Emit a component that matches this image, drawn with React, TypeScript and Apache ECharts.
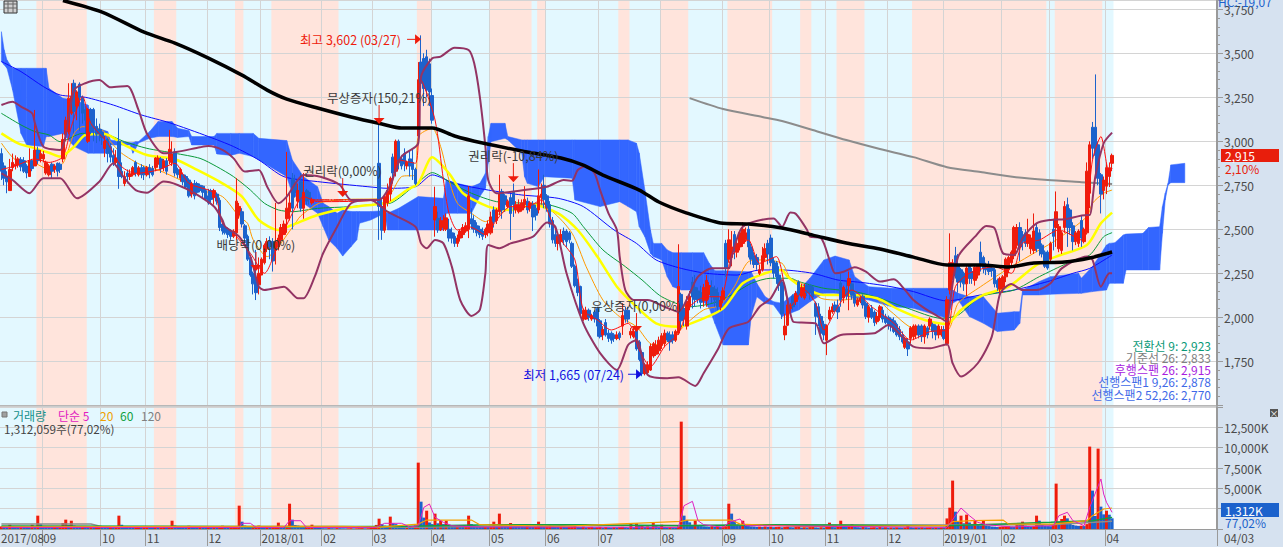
import React, { useEffect, useRef } from "react";
import * as echarts from "echarts";

const FONT = '"Noto Sans CJK KR"';
const DAY_COUNT = 435;
const TRADED_DAYS = 398;

const firstMonthLabel = "2017/08";
const monthStarts = [15, 36, 52, 74, 93, 115, 133, 154, 175, 195, 214, 236, 258, 275, 295, 317, 337, 358, 375, 395];
const monthLabels = ["09", "10", "11", "12", "2018/01", "02", "03", "04", "05", "06", "07", "08", "09", "10", "11", "12", "2019/01", "02", "03", "04"];

const redBands = [[13, 31], [55, 63], [84, 87], [97, 121], [149, 154], [175, 190], [192, 195], [221, 225], [236, 246], [260, 276], [286, 290], [299, 309], [326, 374], [377, 394]];

const HALT = [2667, 2667, 2667, 2667];
// [open, close, low, high]
const candlesA = [
[2930,2830,2780,2960],[2860,2790,2750,2880],[2800,2770,2705,2830],[2720,2840,2720,2900],[2850,2880,2830,2930],[2860,2870,2840,2920],[2865,2900,2850,2910],[2895,2855,2830,2910],[2890,2830,2820,2910],[2860,2820,2790,2870],
[2800,2890,2800,2960],[2890,2845,2830,2900],[2860,2950,2860,3178],[2950,2890,2870,2970],[2900,2930,2880,2950],[2900,2925,2880,2945],[2820,2880,2810,2890],[2810,2860,2800,2870],[2870,2830,2790,2880],[2840,2860,2820,2870],
[2875,2830,2800,2880],[2870,2840,2820,2880],[2900,3010,2880,3045],[3040,3120,3000,3140],[3055,3245,3040,3330],[3160,3255,3150,3330],[3330,3170,3045,3350],[3200,3280,3120,3290],[3325,3250,3060,3335],[3250,3160,3100,3260],
[3180,3120,3040,3200],[3000,3180,2990,3190],[3180,3055,3040,3190],[3180,3070,3000,3190],[3085,3040,2990,3130],[3070,3040,3000,3100],[3050,3020,2980,3070],[2960,3000,2910,3030],[3010,2930,2880,3020],[2970,2910,2880,2990],
[2920,2880,2860,2960],[2880,2905,2860,2950],[3000,2800,2730,3130],[2830,2800,2790,2880],[2760,2800,2745,2830],[2820,2800,2760,2840],[2800,2815,2780,2840],[2810,2850,2800,2860],[2880,2820,2800,2890],[2810,2850,2800,2860],
[2850,2810,2790,2870],[2850,2810,2780,2860],[2810,2850,2800,2860],[2850,2820,2790,2870],[2845,2810,2800,2860],[2850,2905,2830,2910],[2870,2905,2850,2920],[2900,2845,2820,2910],[2850,2890,2830,2900],[2890,2830,2810,2905],
[2890,2955,2870,3065],[2880,2925,2860,3000],[2940,2820,2800,2960],[2840,2810,2790,2850],[2790,2840,2770,2850],[2810,2770,2750,2820],[2800,2740,2730,2810],[2780,2690,2680,2790],[2700,2760,2680,2770],[2760,2690,2670,2780],
[2760,2710,2700,2770],[2750,2720,2710,2760],[2745,2710,2680,2750],[2720,2670,2660,2730],[2690,2650,2640,2730],[2720,2670,2650,2730],[2680,2720,2640,2730],[2700,2660,2640,2710],[2665,2510,2490,2680],[2530,2490,2470,2540],
[2510,2480,2470,2530],[2500,2470,2450,2510],[2490,2460,2440,2500],[2460,2490,2450,2500],[2480,2660,2440,2790],[2580,2630,2560,2650],[2600,2530,2510,2620],[2520,2450,2420,2530],[2460,2330,2320,2470],[2340,2240,2230,2350],
[2250,2190,2130,2260],[2200,2140,2098,2383],[2185,2250,2130,2340],[2240,2330,2240,2340],[2310,2410,2300,2420],[2390,2430,2370,2450],[2430,2400,2330,2460],[2430,2320,2260,2450],[2380,2430,2300,2650],[2400,2450,2380,2470],
[2440,2510,2420,2530],[2470,2530,2470,2550],[2560,2620,2480,2940],[2600,2650,2550,2700],[2790,2620,2500,2820],[2760,2710,2680,2810],[2660,2720,2620,2760],[2770,2620,2600,2820],[2620,2710,2560,2820],[2720,2660,2640,2730],
[2710,2670,2640,2720],[2650,2670,2640,2680],
HALT,HALT,HALT,HALT,HALT,HALT,HALT,HALT,HALT,HALT,HALT,HALT,HALT,HALT,HALT,HALT,HALT,HALT,HALT,HALT,HALT,HALT,HALT,
[2875,2630,2440,3120],[2630,2495,2440,2670],[2495,2685,2480,2700],[2650,2720,2630,2760],[2700,2790,2660,2800],[2910,2820,2760,2930],[2830,3000,2800,3010],[3000,2880,2840,3010],[2900,2860,2840,2920],[2930,2870,2830,2960],
[2860,2880,2840,2890],[2900,2860,2800,2950],[2880,2840,2780,2960],[2840,2760,2750,2850],[3030,3350,3000,3450],[3450,3330,3280,3602],[3470,3300,3200,3500],[3480,3290,3250,3520],[3440,3280,3200,3470],[3260,3120,3100,3300],
];
const candlesB = [
[2553,2629,2458,2742],[2562,2496,2480,2600],[2496,2550,2490,2570],[2510,2550,2490,2580],[2500,2565,2490,2590],[2500,2450,2430,2560],[2480,2450,2420,2510],[2460,2420,2400,2480],[2420,2450,2400,2470],[2450,2490,2430,2500],
[2470,2510,2450,2530],[2490,2520,2480,2540],[2500,2690,2450,2745],[2560,2530,2500,2620],[2550,2500,2480,2580],[2520,2480,2460,2540],[2500,2470,2450,2520],[2490,2460,2440,2510],[2470,2500,2450,2510],[2480,2530,2460,2550],
[2480,2570,2470,2600],[2610,2545,2510,2630],[2550,2610,2530,2620],[2600,2700,2580,2810],[2715,2610,2560,2730],[2690,2640,2600,2700],[2630,2660,2620,2670],[2680,2590,2440,2700],[2710,2640,2570,2760],[2610,2640,2590,2660],
[2600,2640,2590,2670],[2610,2650,2600,2670],[2640,2670,2620,2745],[2660,2610,2590,2680],[2620,2650,2600,2660],[2640,2570,2490,2660],[2620,2580,2550,2640],[2610,2690,2590,2840],[2680,2700,2640,2760],[2750,2670,2620,2810],
[2690,2620,2600,2700],[2640,2530,2510,2660],[2550,2440,2420,2570],[2470,2420,2400,2500],[2420,2460,2380,2480],[2430,2470,2410,2500],[2490,2440,2410,2510],[2490,2430,2400,2500],[2480,2440,2420,2490],[2420,2290,2280,2430],
[2290,2180,2170,2300],[2200,2140,2120,2220],[2175,2020,2000,2180],[1990,2040,1980,2050],[1990,2040,1985,2060],[2040,2000,1980,2050],[1990,2010,1980,2020],[2030,1990,1970,2040],[2050,1950,1890,2060],[1980,1890,1880,1990],
[1900,1930,1870,1950],[1970,1900,1890,1990],[1910,1880,1860,1930],[1910,1870,1850,1920],[1900,1880,1860,1910],[1880,1900,1870,1920],[1910,1885,1870,1920],[1950,2010,1900,2080],[2040,1990,1970,2060],[2040,1990,1970,2060],
[1900,1920,1880,1940],[1890,1920,1880,1940],[1925,1820,1810,1940],[1860,1760,1750,1870],[1800,1680,1665,1810],[1680,1730,1670,1740],[1685,1730,1680,1750],[1700,1835,1695,1850],[1780,1850,1770,1860],[1790,1840,1780,1870],
[1810,1870,1790,1890],[1840,1895,1820,1910],[1850,1910,1830,1930],[1910,1870,1860,1920],[1900,1860,1810,1920],[1900,1870,1850,1920],[1870,1920,1860,1930],[1910,2175,1900,2415],[2130,1980,1930,2140],[2050,1990,1950,2060],
[1950,2090,1930,2120],[2060,2120,2040,2150],[2200,2115,2050,2230],[2170,2100,2060,2240],[2150,2100,2080,2170],[2140,2085,2050,2180],[2095,2170,2060,2190],[2095,2210,2060,2240],[2130,2180,2100,2200],[2170,2115,2080,2210],
[2160,2100,2060,2180],[2140,2060,2040,2170],[2060,2095,2040,2120],[2100,2150,2080,2170],[2420,2280,2230,2440],[2330,2440,2310,2500],[2340,2400,2290,2490],[2470,2380,2330,2490],[2370,2420,2340,2430],[2400,2480,2380,2490],
[2420,2500,2400,2540],[2440,2480,2430,2510],[2500,2400,2340,2520],[2400,2330,2300,2420],[2350,2300,2280,2370],[2340,2300,2270,2360],[2250,2270,2240,2300],[2270,2350,2260,2400],[2340,2390,2320,2420],[2420,2360,2300,2440],
[2450,2310,2290,2470],[2320,2250,2220,2340],[2310,2230,2190,2320],[2240,2180,2150,2290],[2200,2020,1990,2210],[1900,1950,1870,2020],[1955,2070,1950,2080],[2050,2070,2030,2080],[2120,2060,2040,2130],[2090,2135,2070,2150],
];
const candlesC = [
[2200,2127,2100,2210],[2120,2170,2110,2190],[2110,2170,2100,2190],[2180,2140,2120,2190],[2180,2140,2100,2190],[2170,2115,2100,2180],[2080,2005,1900,2090],[2060,2000,1950,2080],[2005,1910,1890,2020],[1960,1900,1870,1980],
[1870,1950,1785,1960],[1990,2040,1980,2060],[2030,2060,2020,2080],[2070,2040,2030,2090],[2060,2030,1990,2100],[2195,2100,2060,2250],[2110,2170,2080,2180],[2160,2120,2100,2200],[2180,2220,2040,2260],[2190,2125,2100,2200],
[2130,2080,2060,2140],[2070,2100,2060,2110],[2090,2110,2080,2120],[2120,2070,2050,2130],[2080,2005,1990,2090],[2000,2060,1970,2070],[2050,2000,1990,2070],[2030,1970,1950,2040],[1975,2005,1960,2030],[2000,2060,1980,2070],
[2040,1990,1970,2060],[2005,1970,1960,2020],[2000,1960,1930,2010],[1990,1950,1920,2000],[1980,1920,1910,2000],[1960,1900,1890,1970],[1930,1890,1870,1950],[1900,1860,1850,1920],[1830,1880,1820,1890],[1860,1820,1780,1880],
[1880,1940,1850,1950],[1890,1950,1870,1960],[1900,1950,1880,1960],[1950,1900,1880,1960],[1950,1890,1860,1960],[1890,1950,1850,1960],[1940,1900,1880,1950],[1950,1990,1930,2000],[1960,1920,1880,1970],[1950,1900,1870,1960],
[1900,1950,1880,1960],[1900,1930,1890,1950],[1930,1880,1870,1950],[1850,2100,1840,2120],[2155,2310,2130,2477],[2240,2310,2210,2330],[2350,2240,2220,2400],[2300,2200,2140,2360],[2270,2200,2170,2280],[2250,2190,2150,2260],
[2190,2280,2120,2290],[2290,2220,2190,2300],[2260,2220,2190,2280],[2210,2285,2180,2290],[2240,2290,2220,2300],[2370,2305,2260,2430],[2340,2280,2250,2350],[2280,2270,2240,2310],[2290,2260,2240,2320],[2280,2265,2230,2290],
[2270,2190,2170,2280],[2210,2170,2150,2220],[2160,2220,2130,2230],[2170,2230,2140,2240],[2230,2330,2200,2340],[2270,2340,2250,2350],[2310,2370,2290,2380],[2350,2510,2330,2520],[2410,2510,2390,2530],[2510,2400,2320,2540],
[2470,2430,2380,2490],[2480,2420,2400,2500],[2420,2470,2400,2560],[2390,2450,2360,2470],[2380,2490,2360,2590],[2510,2390,2370,2530],[2480,2390,2350,2500],[2410,2360,2340,2420],[2370,2290,2280,2380],[2370,2280,2270,2380],
[2330,2420,2320,2430],[2500,2460,2380,2560],[2510,2600,2400,2715],[2390,2515,2370,2530],[2380,2480,2360,2490],[2510,2630,2480,2660],[2640,2510,2400,2680],[2610,2510,2470,2620],[2520,2430,2380,2540],[2430,2480,2410,2490],
[2420,2490,2400,2500],[2550,2450,2400,2580],[2430,2500,2420,2510],[2480,2830,2470,2880],[2705,2980,2620,3000],[3080,2960,2900,3110],[3080,2920,2800,3380],[2980,2790,2750,3000],[2810,2700,2590,2820],[2720,2780,2670,2800],
[2745,2850,2700,2870],[2800,2850,2740,2880],[2875,2920,2830,2930],
];
const candles = [...candlesA, ...candlesB, ...candlesC];

const bbUpper = [[0,3206],[4,3225],[7,3197],[11,3159],[12,3102],[15,2970],[21,2951],[26,3292],[30,3330],[35,3348],[39,3307],[45,3314],[49,3178],[52,3045],[58,2932],[63,2941],[71,2966],[74,2973],[79,2951],[83,2903],[87,2828],[92,2837],[95,2742],[99,2648],[102,2686],[108,2809],[114,2799],[121,2752],[125,2667],[135,2667],[139,2752],[143,2913],[149,2989],[150,3367],[154,3472],[157,3481],[162,3532],[167,3519],[169,3443],[171,3254],[173,2970],[174,2780],[177,2705],[187,2723],[195,2742],[201,2780],[204,2776],[206,2837],[209,2860],[212,2818],[214,2723],[217,2591],[220,2496],[221,2345],[223,2155],[226,2098],[231,2098],[237,2060],[242,2032],[246,2136],[249,2231],[254,2278],[260,2278],[261,2345],[265,2515],[276,2562],[279,2515],[282,2595],[284,2587],[288,2496],[289,2458],[293,2449],[296,2326],[298,2250],[301,2259],[305,2284],[309,2259],[314,2203],[319,2216],[323,2155],[326,2098],[330,2051],[335,2003],[338,1975],[339,2080],[342,2345],[348,2458],[352,2519],[355,2506],[358,2364],[362,2354],[365,2449],[370,2534],[375,2553],[380,2557],[388,2581],[389,2581],[391,2799],[394,2989],[397,3049]];
const bbLower = [[0,2818],[4,2780],[10,2705],[15,2790],[21,2790],[27,2676],[35,2771],[40,2875],[44,2790],[48,2723],[52,2708],[58,2771],[63,2752],[69,2705],[76,2629],[79,2553],[80,2515],[85,2458],[89,2345],[92,2174],[94,2155],[101,2174],[106,2108],[108,2108],[112,2231],[115,2364],[120,2515],[125,2648],[132,2667],[138,2600],[148,2515],[150,2420],[152,2392],[155,2439],[158,2420],[161,2288],[164,2098],[168,2008],[171,2042],[173,2250],[174,2411],[178,2392],[182,2420],[190,2458],[195,2538],[198,2515],[202,2250],[208,1966],[214,1796],[220,1701],[224,1843],[227,1871],[231,1673],[238,1654],[242,1659],[248,1610],[251,1682],[256,1815],[260,1937],[267,1975],[271,2060],[275,2108],[279,2212],[283,1975],[286,1970],[291,1966],[294,1852],[300,1900],[312,1909],[317,1956],[322,1890],[326,1833],[332,1824],[338,1847],[340,1739],[343,1663],[349,1739],[354,1890],[357,2136],[361,2189],[365,2155],[370,2155],[375,2193],[379,2278],[388,2345],[390,2326],[393,2174],[396,2250],[397,2250]];
const ma240 = [[246,3245],[258,3183],[272,3138],[279,3115],[290,3064],[302,3007],[314,2956],[326,2910],[338,2853],[350,2825],[362,2797],[374,2780],[386,2768],[397,2757]];
const ma120 = [[22,3800],[36,3734],[51,3620],[62,3558],[74,3473],[86,3376],[95,3291],[102,3240],[113,3189],[125,3138],[136,3098],[143,3075],[154,3075],[162,3030],[172,2990],[186,2945],[200,2905],[208,2865],[215,2808],[228,2723],[235,2655],[245,2592],[257,2536],[267,2530],[279,2507],[290,2467],[302,2422],[314,2388],[326,2342],[338,2297],[350,2297],[360,2286],[369,2308],[380,2314],[389,2337],[397,2371]];
const baseline = [[0,3453],[7,3396],[15,3311],[21,3263],[30,3250],[40,3206],[50,3150],[60,3106],[74,3027],[83,2970],[92,2894],[101,2799],[113,2771],[131,2742],[138,2733],[148,2742],[154,2809],[162,2761],[174,2723],[186,2695],[199,2676],[208,2629],[219,2496],[227,2420],[234,2326],[243,2278],[252,2250],[263,2240],[271,2269],[279,2269],[290,2250],[299,2212],[308,2197],[318,2174],[326,2146],[338,2093],[350,2127],[362,2155],[374,2203],[383,2250],[389,2278],[397,2354]];
const ma60 = [[0,3159],[7,3093],[12,3055],[17,3036],[21,2998],[29,3045],[36,3045],[44,2998],[52,2960],[62,2932],[71,2903],[77,2856],[83,2799],[89,2723],[94,2648],[99,2610],[104,2600],[113,2619],[125,2629],[135,2644],[139,2648],[148,2752],[154,2822],[161,2761],[168,2705],[177,2657],[188,2648],[196,2638],[204,2591],[208,2515],[215,2383],[223,2288],[229,2212],[236,2117],[246,2060],[254,2079],[261,2127],[268,2193],[275,2222],[282,2222],[285,2203],[294,2165],[305,2146],[314,2108],[324,2051],[336,1994],[342,2013],[350,2117],[362,2155],[371,2231],[381,2307],[389,2354],[394,2458],[397,2481]];
const ma40 = [[0,3045],[6,2988],[12,2960],[17,2935],[21,2913],[26,2970],[30,3036],[37,3042],[44,2979],[52,2922],[62,2898],[70,2837],[79,2761],[86,2686],[92,2553],[99,2496],[104,2525],[113,2581],[125,2625],[135,2644],[139,2657],[145,2723],[149,2761],[154,2909],[160,2818],[165,2705],[174,2629],[182,2610],[190,2638],[199,2591],[206,2496],[213,2345],[220,2174],[227,2060],[234,1966],[242,1947],[251,1994],[258,2051],[265,2193],[273,2250],[279,2269],[281,2231],[286,2174],[294,2127],[304,2127],[313,2108],[321,2042],[330,1985],[338,1962],[343,2042],[351,2127],[360,2174],[370,2297],[377,2345],[388,2411],[393,2534],[397,2595]];
const ma20 = [[0,2990],[5,2895],[12,2875],[17,2840],[22,2875],[26,3045],[29,3083],[36,3064],[39,2998],[43,2932],[50,2865],[56,2837],[64,2780],[71,2723],[79,2686],[85,2572],[88,2534],[90,2440],[95,2345],[104,2510],[107,2576],[114,2651],[124,2670],[135,2674],[139,2700],[143,2799],[148,2809],[149,3027],[154,3074],[157,2970],[160,2780],[163,2648],[168,2591],[173,2544],[177,2581],[184,2629],[190,2648],[197,2600],[204,2477],[209,2288],[215,2098],[221,2003],[227,1947],[233,1843],[239,1871],[245,1966],[251,2042],[257,2070],[262,2174],[267,2316],[272,2326],[279,2307],[282,2222],[286,2193],[293,2108],[300,2098],[311,2117],[318,2032],[326,1937],[338,1928],[342,2080],[350,2174],[360,2278],[369,2364],[377,2439],[388,2572],[390,2648],[394,2705],[397,2723]];
const ma5 = [[0,2840],[5,2860],[12,2900],[17,2880],[22,2913],[25,3083],[29,3254],[32,3102],[38,2989],[43,2856],[48,2818],[56,2837],[62,2875],[67,2761],[76,2705],[79,2534],[83,2477],[89,2364],[94,2250],[99,2420],[104,2591],[108,2686],[113,2657],[135,2667],[139,2723],[142,2894],[148,2875],[150,3348],[155,3121],[158,2780],[160,2591],[163,2496],[167,2515],[170,2496],[173,2468],[177,2553],[182,2629],[188,2629],[193,2667],[196,2572],[200,2439],[205,2326],[208,2042],[213,1985],[218,1928],[224,1966],[228,1814],[232,1720],[237,1833],[242,1909],[246,2060],[252,2117],[257,2117],[261,2345],[267,2439],[271,2307],[277,2345],[282,2060],[287,2155],[291,2080],[294,1928],[299,2061],[304,2155],[311,2061],[319,1966],[325,1871],[332,1919],[338,1928],[341,2174],[346,2250],[355,2288],[361,2250],[365,2420],[371,2439],[378,2496],[386,2439],[390,2894],[393,3027],[396,2818],[397,2847]];

// [day, upper, lower]
const cloud = [[0,3623,3453],[1,3519,3434],[2,3462,3415],[4,3415,3292],[7,3415,3045],[9,3415,2979],[15,3415,2970],[16,3415,3027],[17,3301,3027],[22,3244,3045],[26,3235,2970],[31,3206,2932],[33,3083,2932],[38,3055,2932],[39,3008,2979],[46,2992,2979],[47,2992,2932],[48,2998,2960],[49,2998,2990],[53,3055,3017],[56,3112,3027],[61,3112,3027],[63,3074,3022],[67,3061,3027],[68,3027,2979],[76,3027,2979],[77,3045,2928],[82,3045,2920],[85,3045,2932],[90,3045,2913],[92,3017,2894],[102,3004,2799],[104,2894,2700],[108,2799,2648],[113,2742,2591],[115,2648,2515],[117,2629,2439],[120,2591,2392],[122,2610,2348],[125,2601,2402],[127,2601,2439],[128,2601,2534],[132,2601,2553],[137,2606,2591],[138,2591,2496],[142,2619,2496],[149,2686,2496],[158,2676,2496],[159,2780,2591],[163,2761,2591],[168,2742,2591],[171,2761,2686],[173,2818,2733],[174,3027,2875],[175,3102,2998],[180,3102,3017],[181,3027,3008],[186,3008,2932],[187,3008,2799],[188,3008,2761],[192,3008,2742],[194,3008,2799],[204,3008,2790],[205,3008,2667],[214,3008,2629],[221,3008,2657],[224,3008,2629],[227,2989,2600],[228,2932,2515],[230,2723,2458],[232,2496,2364],[233,2420,2345],[236,2420,2326],[238,2383,2231],[240,2367,2174],[243,2367,2155],[247,2367,2155],[251,2367,2089],[253,2307,2051],[255,2265,1966],[258,2265,1843],[267,2259,1843],[268,2259,2004],[270,2193,2117],[273,2117,2080],[276,2089,2070],[279,2080,2004],[285,2155,2042],[289,2222,2089],[294,2326,2136],[298,2348,2136],[303,2326,2117],[305,2231,2108],[310,2174,2098],[318,2165,2061],[326,2165,2051],[338,2165,1994],[340,2155,2080],[342,2136,2098],[346,2117,2004],[351,2117,1966],[356,2023,1919],[362,2032,1928],[364,2032,1966],[365,2155,2127],[371,2203,2127],[375,2231,2131],[385,2250,2136],[386,2222,2136],[390,2288,2146],[395,2411,2155],[396,2420,2193],[398,2424,2193],[401,2468,2193],[402,2473,2269],[408,2477,2269],[410,2510,2269],[414,2515,2269],[415,2629,2477],[416,2705,2667],[417,2761,2751],[418,2866,2765],[423,2875,2765]];

// thousands of shares
const volumes = [
320,280,260,530,300,250,230,280,260,240,220,530,300,1640,600,350,300,280,260,300,
280,320,740,1150,500,1020,420,320,280,300,260,240,280,220,260,300,280,250,240,260,
220,280,1640,520,300,260,240,200,220,260,180,200,230,210,190,240,200,220,260,210,
230,1020,420,280,240,220,200,400,260,220,200,240,210,190,230,200,220,180,210,400,
240,220,260,300,340,2870,900,420,320,280,300,340,420,300,260,280,240,300,350,780,
380,320,400,3110,1150,480,420,300,260,280,300,530,260,150,120,100,90,110,100,90,
110,100,90,80,90,100,80,90,100,110,90,100,120,300,500,1270,620,420,380,1520,
700,600,340,300,280,320,260,240,420,8160,3360,1400,2250,800,600,1890,700,1020,600,1020,
520,400,380,420,340,300,320,1640,600,480,420,380,340,360,320,420,900,460,1890,620,
500,440,740,420,380,340,320,300,360,280,260,300,900,480,360,420,500,380,320,280,
300,260,240,280,300,340,260,240,280,220,240,260,200,220,260,180,240,200,180,220,
200,240,260,220,180,700,220,700,380,420,300,340,280,780,360,300,530,260,220,240,
200,180,300,13200,1640,1100,820,480,1020,420,360,320,300,280,340,260,300,280,320,340,
3110,1890,1020,480,380,1020,420,360,320,300,260,280,240,300,260,280,220,240,260,200,
240,280,220,200,240,260,180,220,200,240,260,200,180,220,190,260,780,240,220,300,
1020,280,240,260,600,240,220,200,240,220,180,200,220,190,240,200,220,180,200,190,
210,190,180,200,400,220,180,200,190,210,170,190,200,180,190,170,200,180,1300,2620,
5950,2130,900,1640,700,1760,800,620,1020,500,440,1020,420,360,300,280,240,260,300,320,
340,300,280,600,500,900,420,380,300,340,1640,1020,520,400,360,340,600,5580,900,1230,
1640,1310,700,500,420,380,400,360,600,10130,4720,1600,9880,2750,1800,2250,1760,1312,
];
const volMa5 = [[0,200],[85,200],[86,700],[89,700],[91,200],[101,200],[103,1020],[107,1020],[109,200],[134,200],[137,700],[143,700],[146,250],[149,400],[151,2660],[153,3070],[155,1430],[158,820],[161,400],[170,250],[242,200],[244,2870],[247,3400],[249,1020],[251,530],[258,200],[260,820],[264,1230],[266,410],[338,200],[341,1640],[343,2580],[346,1640],[349,820],[352,530],[361,250],[376,410],[378,1640],[381,2050],[383,1020],[387,410],[389,2660],[393,6150],[394,4300],[395,3280],[397,2050]];
const volMa20 = [[0,260],[91,330],[122,330],[135,240],[149,600],[152,1100],[168,1100],[171,530],[200,330],[243,940],[245,1100],[261,1100],[264,600],[287,290],[338,410],[340,900],[347,1020],[358,1100],[360,600],[376,600],[388,1020],[390,1640],[394,2460],[397,2580]];
const volMa60 = [[0,380],[60,330],[140,300],[175,530],[208,530],[243,410],[272,530],[300,500],[338,410],[375,820],[390,1020],[397,1430]];
const volMa120 = [[0,620],[32,620],[36,290],[146,200],[204,410],[338,490],[375,530],[397,940]];

const eventDays = [91, 122, 135, 183, 227];
const eventPrices = [2263, 2683, 3098, 2768, 1916];
const eventTexts = ["배당락(0,00%)", "권리락(0,00%)", "무상증자(150,21%)", "권리락(-10,84%)", "유상증자(0,00%)"];

const extremeDays = [150, 229];
const extremePrices = [3602, 1665];
const extremeTexts = ["최고 3,602 (03/27)", "최저 1,665 (07/24)"];

const ichimokuLegend = [
  ["전환선 9: 2,923", "#0a9a78"],
  ["기준선 26: 2,833", "#808080"],
  ["후행스팬 26: 2,915", "#a81ee0"],
  ["선행스팬1 9,26: 2,878", "#3f6ae8"],
  ["선행스팬2 52,26: 2,770", "#3f6ae8"],
];
const volumeLegend = [
  ["거래량", "#16908a", 13],
  ["단순 5", "#e020c0", 58],
  ["20", "#f0a000", 100],
  ["60", "#10a040", 120],
  ["120", "#808080", 141],
];

const RED = "#ee1c0c";
const BLUE = "#1c62cc";
const GRID_LINE = "#d4d4d4";
const AXIS_LINE = "#9a9a9a";
const PANEL = "#d6e2f0";
const TEXT = "#4a4a4a";

const isMonth = (i: number) => monthStarts.includes(i);
const fmt = (v: number) => v.toLocaleString("en-US");

const bandSeries = (grid: number) => ({
  type: "custom",
  xAxisIndex: grid,
  yAxisIndex: grid,
  z: -1,
  silent: true,
  clip: true,
  encode: { x: [0, 1] },
  data: [[0, TRADED_DAYS, 0], ...redBands.map((b) => [b[0], b[1], 1])],
  renderItem: (params: any, api: any) => {
    const w = api.size([1, 0])[0];
    const a = api.coord([api.value(0), 2000])[0] - w / 2;
    const b = api.coord([api.value(1), 2000])[0] - w / 2;
    const cs = params.coordSys;
    return {
      type: "rect",
      shape: { x: a, y: cs.y, width: b - a, height: cs.height },
      style: { fill: api.value(2) === 1 ? "#ffe4dc" : "#e3f8ff" },
    };
  },
});

const lineSeries = (data: number[][], color: string, width: number, grid = 0, z = 5, smooth: number | boolean = 0.25) => ({
  type: "line",
  data,
  xAxisIndex: grid,
  yAxisIndex: grid,
  symbol: "none",
  smooth,
  z,
  silent: true,
  lineStyle: { color, width },
});

const categories = Array.from({ length: DAY_COUNT }, (_, i) => String(i));

const xAxisBase = (grid: number) => ({
  type: "category",
  gridIndex: grid,
  data: categories,
  boundaryGap: true,
  silent: true,
  splitLine: { show: true, interval: (i: number) => isMonth(i), lineStyle: { color: GRID_LINE, width: 1 } },
});

export default function App() {
  const ref = useRef<HTMLDivElement>(null);
  useEffect(() => {
    document.body.style.margin = "0";
    const chart = echarts.init(ref.current!, undefined, { renderer: "svg" });
    const T = (x: number, y: number, text: string, fill: string, align = "left", size = 12, z = 30) => ({
      type: "text",
      z,
      silent: true,
      style: { x, y, text, fill, align, verticalAlign: "middle", font: `${size}px ${FONT}` },
    });
    const option: any = {
      animation: false,
      backgroundColor: "#ffffff",
      textStyle: { fontFamily: FONT },
      grid: [
        { left: 0, top: 0.5, width: 1217, height: 404.8 },
        { left: 0, top: 407, width: 1217, height: 122 },
      ],
      xAxis: [
        { ...xAxisBase(0), axisLine: { show: false }, axisTick: { show: false }, axisLabel: { show: false } },
        {
          ...xAxisBase(1),
          axisLine: { lineStyle: { color: AXIS_LINE, width: 1 } },
          axisTick: { show: true, length: 17, interval: (i: number) => isMonth(i), lineStyle: { color: AXIS_LINE } },
          axisLabel: {
            show: true,
            interval: (i: number) => isMonth(i),
            formatter: (_: string, i: number) => monthLabels[monthStarts.indexOf(i)] ?? "",
            align: "left",
            margin: 3,
            color: TEXT,
            fontSize: 11.5,
            fontFamily: FONT,
            hideOverlap: false,
          },
        },
      ],
      yAxis: [
        {
          type: "value",
          gridIndex: 0,
          position: "right",
          min: 1500,
          max: 3800,
          interval: 250,
          silent: true,
          axisLine: { show: true, lineStyle: { color: AXIS_LINE, width: 2 } },
          axisTick: { show: true, length: 6, lineStyle: { color: AXIS_LINE } },
          minorTick: { show: true, splitNumber: 5, length: 3, lineStyle: { color: AXIS_LINE } },
          splitLine: { show: true, lineStyle: { color: GRID_LINE, width: 1 } },
          axisLabel: {
            show: true,
            margin: 7,
            color: TEXT,
            fontSize: 12,
            fontFamily: FONT,
            padding: [0, 0, 3, 0],
            formatter: (v: number) => (v === 3800 || v === 1500 ? "" : fmt(v)),
          },
        },
        {
          type: "value",
          gridIndex: 1,
          position: "right",
          min: 0,
          max: 15000,
          interval: 2500,
          silent: true,
          axisLine: { show: true, lineStyle: { color: AXIS_LINE, width: 2 } },
          axisTick: { show: true, length: 6, lineStyle: { color: AXIS_LINE } },
          splitLine: { show: true, lineStyle: { color: GRID_LINE, width: 1 } },
          axisLabel: {
            show: true,
            margin: 7,
            color: TEXT,
            fontSize: 12,
            fontFamily: FONT,
            padding: [0, 0, 3, 0],
            formatter: (v: number) => (v === 0 || v === 15000 ? "" : `${fmt(v)}K`),
          },
        },
      ],
      graphic: {
        elements: [
          { type: "rect", z: -5, silent: true, shape: { x: 0, y: 530, width: 1283, height: 17 }, style: { fill: PANEL } },
          { type: "rect", z: -5, silent: true, shape: { x: 1217, y: 0, width: 66, height: 547 }, style: { fill: PANEL } },
          { type: "line", z: 20, silent: true, shape: { x1: 0, y1: 406, x2: 1217, y2: 406 }, style: { stroke: AXIS_LINE, lineWidth: 1 } },
          { type: "rect", z: 30, silent: true, shape: { x: 4, y: 1, width: 13, height: 12 }, style: { fill: "#cfcfcf", stroke: "#333333", lineWidth: 1 } },
          { type: "line", z: 31, silent: true, shape: { x1: 4, y1: 4, x2: 17, y2: 4 }, style: { stroke: "#666666", lineWidth: 1 } },
          { type: "line", z: 31, silent: true, shape: { x1: 4, y1: 8, x2: 17, y2: 8 }, style: { stroke: "#666666", lineWidth: 1 } },
          { type: "line", z: 31, silent: true, shape: { x1: 8, y1: 1, x2: 8, y2: 13 }, style: { stroke: "#666666", lineWidth: 1 } },
          { type: "line", z: 31, silent: true, shape: { x1: 13, y1: 1, x2: 13, y2: 13 }, style: { stroke: "#666666", lineWidth: 1 } },
          T(1218, 1, "HC:-19,07", "#1c62cc", "left", 12),
          T(1, 538, firstMonthLabel, TEXT, "left", 11.5),
          { type: "rect", z: 40, silent: true, shape: { x: 1221, y: 149, width: 58, height: 13 }, style: { fill: "#e81e0c" } },
          T(1225, 155.5, "2,915", "#ffffff", "left", 12, 41),
          T(1225, 168, "2,10%", "#e81e0c", "left", 12, 41),
          { type: "rect", z: 40, silent: true, shape: { x: 1221, y: 503, width: 58, height: 14 }, style: { fill: "#1c62cc" } },
          T(1225, 510, "1,312K", "#ffffff", "left", 12, 41),
          T(1225, 522, "77,02%", "#1c62cc", "left", 12, 41),
          T(1224, 538, "04/03", TEXT, "left", 11.5),
          { type: "rect", z: 30, silent: true, shape: { x: 1270, y: 409, width: 8, height: 8 }, style: { fill: "#555555" } },
          T(1274, 413, "×", "#ffffff", "center", 9, 31),
          { type: "rect", z: 30, silent: true, shape: { x: 2, y: 412, width: 5, height: 5 }, style: { fill: "#a0a0a0", stroke: "#777777", lineWidth: 1 } },
          T(4, 428, "1,312,059주(77,02%)", "#444444", "left", 11.7),
          ...volumeLegend.map((r) => T(r[2] as number, 415, r[0] as string, r[1] as string, "left", 12)),
          ...ichimokuLegend.map((r, i) => T(1211, 345 + i * 12.3, r[0], r[1], "right", 12)),
        ],
      },
      series: [
        bandSeries(0),
        bandSeries(1),
        {
          type: "custom",
          xAxisIndex: 0,
          yAxisIndex: 0,
          z: 1,
          silent: true,
          clip: true,
          encode: { x: 0, y: [1, 2] },
          data: cloud,
          renderItem: (params: any, api: any) => {
            const i = params.dataIndexInside;
            if (i >= cloud.length - 1) return null;
            const x0 = api.value(0, i);
            const x1 = api.value(0, i + 1);
            const pts = [
              api.coord([x0, api.value(1, i)]),
              api.coord([x1, api.value(1, i + 1)]),
              api.coord([x1, api.value(2, i + 1)]),
              api.coord([x0, api.value(2, i)]),
            ];
            return {
              type: "polygon",
              shape: { points: pts },
              style: { fill: "#3366ff", stroke: "#3366ff", lineWidth: 0.5 },
            };
          },
        },
        lineSeries(baseline, "#0b0bff", 1, 0, 2),
        lineSeries(ma60, "#0a9a3a", 1, 0, 2),
        lineSeries(ma20, "#ff9a00", 1, 0, 2),
        lineSeries(ma40, "#ffff00", 2.5, 0, 2),
        lineSeries(ma240, "#8c8c8c", 2, 0, 2),
        {
          type: "candlestick",
          xAxisIndex: 0,
          yAxisIndex: 0,
          barWidth: 3,
          z: 3,
          silent: true,
          data: candles,
          itemStyle: {
            color: RED,
            color0: BLUE,
            borderColor: RED,
            borderColor0: BLUE,
            borderColorDoji: RED,
            borderWidth: 1,
          },
        },
        lineSeries(ma5, "#ff1010", 1, 0, 4),
        lineSeries(bbUpper, "#933464", 2, 0, 5),
        lineSeries(bbLower, "#933464", 2, 0, 5),
        lineSeries(ma120, "#000000", 3.5, 0, 6),
        {
          type: "custom",
          xAxisIndex: 0,
          yAxisIndex: 0,
          z: 8,
          silent: true,
          clip: false,
          encode: { x: 0, y: 1 },
          data: eventDays.map((d, i) => [d, eventPrices[i]]),
          renderItem: (params: any, api: any) => {
            const [x, y] = api.coord([api.value(0), api.value(1)]);
            return {
              type: "group",
              children: [
                { type: "line", shape: { x1: x, y1: y - 19, x2: x, y2: y - 5 }, style: { stroke: "#ee1c0c", lineWidth: 1 } },
                { type: "polygon", shape: { points: [[x - 5.5, y - 6], [x + 5.5, y - 6], [x, y]] }, style: { fill: "#ee1c0c" } },
                { type: "text", style: { x, y: y - 27, text: eventTexts[params.dataIndexInside], fill: "#3a3a3a", align: "center", verticalAlign: "middle", font: `12.5px ${FONT}` } },
              ],
            };
          },
        },
        {
          type: "custom",
          xAxisIndex: 0,
          yAxisIndex: 0,
          z: 8,
          silent: true,
          clip: false,
          encode: { x: 0, y: 1 },
          data: extremeDays.map((d, i) => [d, extremePrices[i]]),
          renderItem: (params: any, api: any) => {
            const [x, y0] = api.coord([api.value(0), api.value(1)]);
            const i = params.dataIndexInside;
            const color = i === 0 ? "#ee1c0c" : "#1010e0";
            const y = i === 0 ? y0 + 4 : y0 - 2;
            return {
              type: "group",
              children: [
                { type: "line", shape: { x1: x - 14, y1: y, x2: x - 4, y2: y }, style: { stroke: color, lineWidth: 1 } },
                { type: "polygon", shape: { points: [[x - 6, y - 5], [x - 6, y + 5], [x, y]] }, style: { fill: color } },
                { type: "text", style: { x: i === 0 ? x - 20 : x - 18, y, text: extremeTexts[i], fill: color, align: "right", verticalAlign: "middle", font: `12.5px ${FONT}` } },
              ],
            };
          },
        },
        {
          type: "bar",
          xAxisIndex: 1,
          yAxisIndex: 1,
          barWidth: 3,
          z: 3,
          silent: true,
          data: volumes.map((v, i) => ({
            value: v,
            itemStyle: { color: i > 0 && v < volumes[i - 1] ? BLUE : RED },
          })),
        },
        lineSeries(volMa120, "#8c8c8c", 1.5, 1, 4, false),
        lineSeries(volMa60, "#10a040", 1.5, 1, 4, false),
        lineSeries(volMa20, "#f5a000", 1.2, 1, 4, false),
        lineSeries(volMa5, "#e020c0", 1, 1, 4, false),
      ],
    };
    chart.setOption(option);
    return () => chart.dispose();
  }, []);
  return <div ref={ref} style={{ width: 1283, height: 547 }} />;
}
